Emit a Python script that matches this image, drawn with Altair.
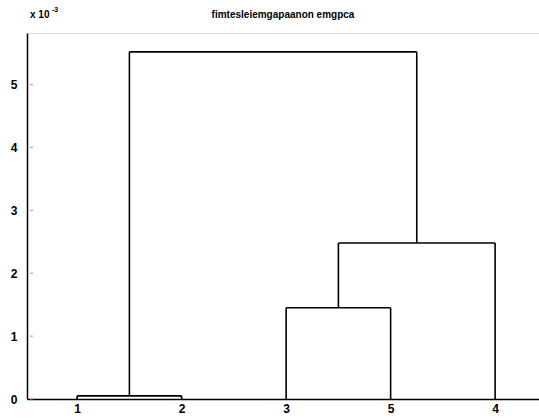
import altair as alt
import pandas as pd

# Leaf order along the x axis and their labels
leaf_pos = [1, 2, 3, 4, 5]
leaf_labels = ["1", "2", "3", "5", "4"]

# Links (heights in units of 1e-3)
link_left_x = [1.0, 3.0, 3.5, 1.5]
link_right_x = [2.0, 4.0, 5.0, 4.25]
link_left_base = [0.0, 0.0, 1.45, 0.05]
link_right_base = [0.0, 0.0, 0.0, 2.48]
link_height = [0.05, 1.45, 2.48, 5.52]

y_ticks = [0, 1, 2, 3, 4, 5]

rows = []
for lx, rx, lb, rb, h in zip(link_left_x, link_right_x, link_left_base, link_right_base, link_height):
    rows.append({"x": lx, "x2": lx, "y": lb, "y2": h})
    rows.append({"x": lx, "x2": rx, "y": h, "y2": h})
    rows.append({"x": rx, "x2": rx, "y": rb, "y2": h})
seg = pd.DataFrame(rows)

xscale = alt.Scale(domain=[0.52, 5.42], nice=False, zero=False)
yscale = alt.Scale(domain=[0, 5.82], nice=False)

label_expr = "{" + ",".join(f"'{p}':'{l}'" for p, l in zip(leaf_pos, leaf_labels)) + "}[datum.value]"

lines = alt.Chart(seg).mark_rule(color="black", strokeWidth=1.6).encode(
    x=alt.X("x:Q", scale=xscale,
            axis=alt.Axis(values=leaf_pos, labelExpr=label_expr, title=None, grid=False,
                          ticks=False, labelPadding=4, labelFontSize=12, labelFontWeight="bold",
                          labelFont="Liberation Sans", labelColor="black",
                          domainColor="black", domainWidth=1.5)),
    x2="x2:Q",
    y=alt.Y("y:Q", scale=yscale,
            axis=alt.Axis(values=y_ticks, format="d", title=None, grid=False, ticks=False,
                          labelPadding=10, labelFontSize=12, labelFontWeight="bold",
                          labelFont="Liberation Sans", labelColor="black",
                          domainColor="black", domainWidth=1.5)),
    y2="y2:Q",
)

ytick_df = pd.DataFrame({"v": y_ticks})
yticks = alt.Chart(ytick_df).mark_rule(color="#999999", strokeWidth=1).encode(
    y=alt.Y("v:Q", scale=yscale), x=alt.value(3), x2=alt.value(6)
)

exp_base = alt.Chart(pd.DataFrame({"t": ["x 10"]})).mark_text(
    align="left", baseline="middle", fontSize=10, fontWeight="bold",
    font="Liberation Sans", color="black"
).encode(text="t:N", x=alt.value(3), y=alt.value(-18))

exp_sup = alt.Chart(pd.DataFrame({"t": ["-3"]})).mark_text(
    align="left", baseline="middle", fontSize=7, fontWeight="bold",
    font="Liberation Sans", color="black"
).encode(text="t:N", x=alt.value(25), y=alt.value(-23))

title = alt.Chart(pd.DataFrame({"t": ["fimtesleiemgapaanon emgpca"]})).mark_text(
    align="center", baseline="middle", fontSize=10, fontWeight="bold",
    font="Liberation Sans", color="black"
).encode(text="t:N", x=alt.value(256), y=alt.value(-18))

chart = alt.layer(lines, yticks, exp_base, exp_sup, title).properties(
    width=512, height=366,
    autosize=alt.AutoSizeParams(type="none"),
    padding={"left": 27, "top": 33, "right": 0, "bottom": 21},
).configure_view(stroke=None).configure(background="white")

chart.save("out.html", embed_options={"renderer": "svg", "actions": False})
